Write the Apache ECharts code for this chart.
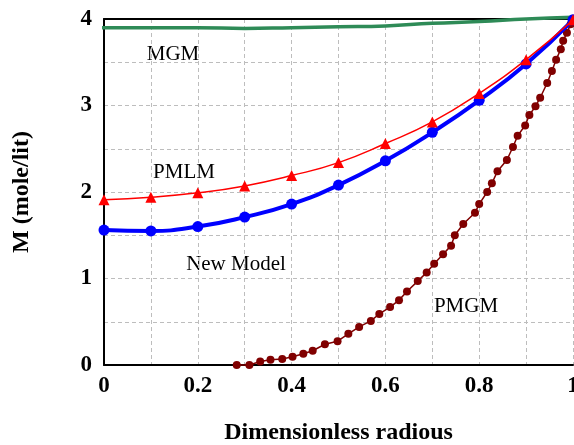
<!DOCTYPE html>
<html>
<head>
<meta charset="utf-8">
<script src="https://cdn.jsdelivr.net/npm/echarts@6/dist/echarts.min.js"></script>
<style>
    html, body { margin: 0; padding: 0; background: #fff; }
    #main { width: 574px; height: 445px; }
</style>
</head>
<body>
<div id="main"></div>
<script>
    // x positions of the model points
    var radius = [0, 0.1, 0.2, 0.3, 0.4, 0.5, 0.6, 0.7, 0.8, 0.9, 1.0];

    var newModel = [1.56, 1.55, 1.60, 1.71, 1.86, 2.08, 2.36, 2.69, 3.06, 3.48, 3.99];
    var pmlm = [1.91, 1.94, 1.99, 2.07, 2.19, 2.34, 2.56, 2.81, 3.14, 3.53, 3.99];

    var mgmX = [-0.015, 0, 0.1, 0.2, 0.3, 0.4, 0.5, 0.6, 0.7, 0.8, 0.9, 1.0];
    var mgmY = [3.90, 3.90, 3.90, 3.90, 3.89, 3.90, 3.91, 3.92, 3.95, 3.97, 4.00, 4.02];

    var pmgmX = [0.283, 0.310, 0.333, 0.355, 0.380, 0.402, 0.425, 0.445, 0.471, 0.498,
        0.521, 0.544, 0.569, 0.587, 0.610, 0.629, 0.646, 0.669, 0.688, 0.704,
        0.723, 0.740, 0.748, 0.766, 0.791, 0.800, 0.817, 0.827, 0.839, 0.859,
        0.872, 0.882, 0.898, 0.907, 0.920, 0.930, 0.945, 0.955, 0.964, 0.974,
        0.979, 0.987, 0.995, 0.999];
    var pmgmY = [0, 0, 0.04, 0.06, 0.07, 0.095, 0.13, 0.165, 0.24, 0.275,
        0.36, 0.44, 0.51, 0.59, 0.67, 0.75, 0.85, 0.97, 1.07, 1.17,
        1.28, 1.38, 1.50, 1.63, 1.76, 1.86, 2.00, 2.10, 2.24, 2.37,
        2.52, 2.65, 2.77, 2.89, 2.99, 3.09, 3.26, 3.40, 3.53, 3.65,
        3.75, 3.84, 3.94, 4.00];

    var seriesLabels = ['MGM', 'PMLM', 'New Model', 'PMGM'];

    function pairs(xs, ys) {
        return xs.map(function(x, i) { return [x, ys[i]]; });
    }

    var serif = '"Liberation Serif", "Times New Roman", serif';
    var gridLine = { show: true, lineStyle: { color: '#bdbdbd', type: [4, 3], width: 1 } };

    var chart = echarts.init(document.getElementById('main'));

    chart.setOption({
        animation: false,
        backgroundColor: '#fff',
        grid: { left: 104, top: 19, right: 1, bottom: 80, outerBoundsMode: 'none', containLabel: false },
        xAxis: [{
            type: 'value',
            min: 0,
            max: 1,
            interval: 0.1,
            name: 'Dimensionless radious',
            nameLocation: 'middle',
            nameGap: 56,
            nameTextStyle: { fontFamily: serif, fontWeight: 'bold', fontSize: 24, color: '#000' },
            axisLine: { lineStyle: { color: '#000', width: 2 } },
            axisTick: { show: false },
            splitLine: gridLine,
            axisLabel: {
                margin: 10,
                fontFamily: serif,
                fontWeight: 'bold',
                fontSize: 23,
                color: '#000',
                formatter: function(v) {
                    var k = Math.round(v * 10);
                    return k % 2 === 0 ? String(k / 10) : '';
                }
            }
        }, {
            // top frame line only
            type: 'value',
            position: 'top',
            min: 0,
            max: 1,
            axisLine: { show: true, onZero: false, lineStyle: { color: '#000', width: 2 } },
            axisTick: { show: false },
            axisLabel: { show: false },
            splitLine: { show: false }
        }],
        yAxis: {
            type: 'value',
            min: 0,
            max: 4,
            interval: 0.5,
            name: 'M (mole/lit)',
            nameLocation: 'middle',
            nameGap: 70,
            nameTextStyle: { fontFamily: serif, fontWeight: 'bold', fontSize: 24, color: '#000' },
            axisLine: { show: true, lineStyle: { color: '#000', width: 2 } },
            axisTick: { show: false },
            splitLine: gridLine,
            axisLabel: {
                margin: 12,
                fontFamily: serif,
                fontWeight: 'bold',
                fontSize: 23,
                color: '#000',
                formatter: function(v) {
                    return v % 1 === 0 ? String(v) : '';
                }
            }
        },
        series: [{
            name: seriesLabels[0],
            type: 'line',
            data: pairs(mgmX, mgmY),
            smooth: true,
            showSymbol: false,
            clip: false,
            lineStyle: { color: '#2e8b57', width: 3.5 },
            z: 3
        }, {
            name: seriesLabels[1],
            type: 'line',
            data: pairs(radius, pmlm),
            smooth: true,
            symbol: 'triangle',
            symbolSize: 11,
            lineStyle: { color: '#ff0000', width: 1.5 },
            itemStyle: { color: '#ff0000' },
            z: 4
        }, {
            name: seriesLabels[2],
            type: 'line',
            data: pairs(radius, newModel),
            smooth: true,
            symbol: 'circle',
            symbolSize: 11,
            lineStyle: { color: '#0000ff', width: 4 },
            itemStyle: { color: '#0000ff' },
            z: 3
        }, {
            name: seriesLabels[3],
            type: 'line',
            data: pairs(pmgmX, pmgmY),
            symbol: 'circle',
            symbolSize: 8,
            clip: false,
            lineStyle: { color: '#800000', width: 1.5 },
            itemStyle: { color: '#800000' },
            z: 2
        }],
        graphic: [
            { type: 'text', x: 173, y: 54, style: { text: seriesLabels[0], font: '21px ' + serif, fill: '#000', align: 'center', verticalAlign: 'middle' } },
            { type: 'text', x: 184, y: 172, style: { text: seriesLabels[1], font: '21px ' + serif, fill: '#000', align: 'center', verticalAlign: 'middle' } },
            { type: 'text', x: 236, y: 264, style: { text: seriesLabels[2], font: '21px ' + serif, fill: '#000', align: 'center', verticalAlign: 'middle' } },
            { type: 'text', x: 466, y: 306, style: { text: seriesLabels[3], font: '21px ' + serif, fill: '#000', align: 'center', verticalAlign: 'middle' } }
        ]
    });
</script>
</body>
</html>
